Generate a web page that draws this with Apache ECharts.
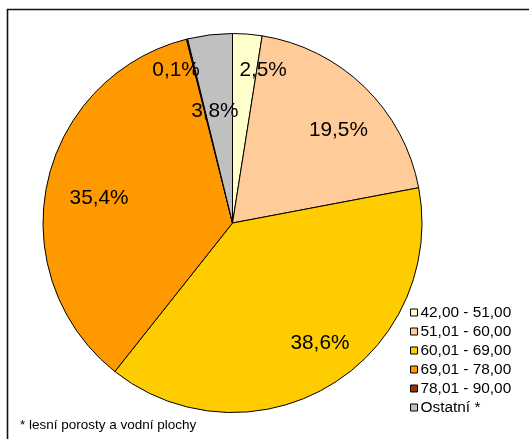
<!DOCTYPE html>
<html>
<head>
<meta charset="utf-8">
<script src="https://cdn.jsdelivr.net/npm/echarts@6/dist/echarts.min.js"></script>
<style>
html,body{margin:0;padding:0;background:#fff;}
#c{width:529px;height:439px;}
</style>
</head>
<body>
<div id="c"></div>
<script>
// Data
const categories = ['42,00 - 51,00', '51,01 - 60,00', '60,01 - 69,00', '69,01 - 78,00', '78,01 - 90,00', 'Ostatní *'];
const shares = [2.5, 19.5, 38.6, 35.4, 0.1, 3.8];
const colors = ['#FFFFCC', '#FFCC99', '#FFCC00', '#FF9900', '#993300', '#C0C0C0'];
const footnote = '* lesní porosty a vodní plochy';

// label nudges (style only), order follows slices
const labelNudge = [[19, -5], [3, 13], [11, -6], [11, 6], [-21, -9], [0, 35]];

const FONT = '"Liberation Sans", Arial, sans-serif';
const center = [232.5, 223];
const R = 189.5;

const chart = echarts.init(document.getElementById('c'), null, {renderer: 'canvas'});

const pieData = categories.map((n, i) => ({
  name: n, value: shares[i],
  itemStyle: {color: colors[i]}
}));
const labelData = categories.map((n, i) => ({
  name: n, value: shares[i],
  label: {offset: labelNudge[i]}
}));

chart.setOption({
  animation: false,
  graphic: [{
    type: 'rect', silent: true,
    shape: {x: 7.5, y: 9.5, width: 540, height: 450},
    style: {fill: null, stroke: '#111', lineWidth: 1.6}
  }, {
    type: 'text', silent: true,
    left: 20, top: 418,
    style: {text: footnote, font: '13.5px ' + FONT, fill: '#000'}
  }],
  legend: {
    orient: 'vertical',
    left: 410, top: 305,
    padding: 0,
    itemWidth: 7, itemHeight: 7,
    itemGap: 4,
    selectedMode: false,
    icon: 'rect',
    data: categories,
    itemStyle: {borderColor: '#000', borderWidth: 1},
    textStyle: {fontFamily: FONT, fontSize: 15.4, color: '#000', lineHeight: 15, padding: [0, 0, 0, -2]}
  },
  series: [{
    type: 'pie',
    center: center,
    radius: [0, R],
    startAngle: 90,
    clockwise: true,
    silent: true,
    data: pieData,
    label: {show: false},
    labelLine: {show: false},
    itemStyle: {borderColor: '#000', borderWidth: 1}
  }, {
    type: 'pie',
    center: center,
    radius: [100, R],
    startAngle: 90,
    clockwise: true,
    silent: true,
    legendHoverLink: false,
    data: labelData,
    itemStyle: {color: 'rgba(0,0,0,0)', borderWidth: 0},
    label: {
      show: true, position: 'inside',
      formatter: p => p.value.toFixed(1).replace('.', ',') + '%',
      fontFamily: FONT, fontSize: 20.8, color: '#000'
    },
    labelLine: {show: false}
  }]
});
</script>
</body>
</html>
